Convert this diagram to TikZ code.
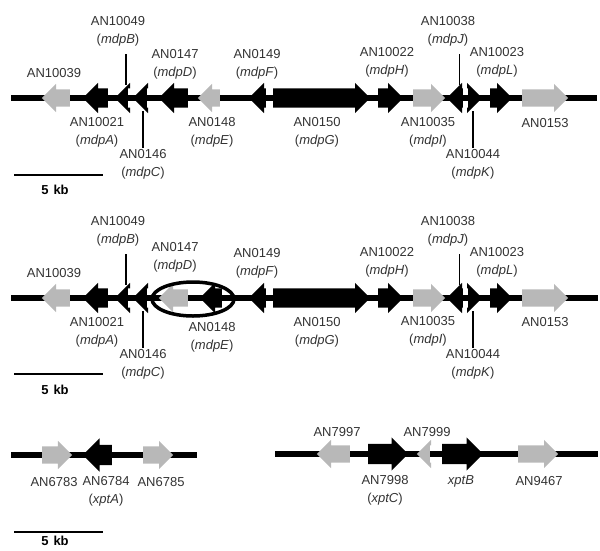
\documentclass[tikz,border=0pt]{standalone}
\usepackage{fontspec}
\setmainfont{Liberation Sans}
\usepackage{tikz}
\usetikzlibrary{shapes.arrows, shapes.geometric, calc}
\usepackage{xcolor}
\definecolor{genegray}{gray}{0.72}
\definecolor{labelgray}{gray}{0.2}
\newcommand{\genefont}{\fontsize{13}{18}\selectfont}

\begin{document}
\begin{tikzpicture}[
		x=1pt, y=-1pt,
		every node/.style={font=\genefont, text=labelgray},
		chrom/.style={line width=6pt, black},
		gene/.style={single arrow, single arrow tip angle=90, inner xsep=0pt, anchor=tail},
		graygene/.style={gene, fill=genegray, inner ysep=8.5pt, single arrow head extend=5.5pt},
		blackgene/.style={gene, fill=black, inner ysep=9.5pt, single arrow head extend=5.5pt},
		biggene/.style={gene, fill=black, inner ysep=10pt, single arrow head extend=6.5pt},
		leftward/.style={shape border rotate=180},
		locus/.style={align=center, inner sep=1pt},
		leader/.style={line width=1.5pt, black},
		scalebar/.style={line width=2.5pt, black},
		kb/.style={font=\fontsize{13}{15}\selectfont\bfseries, text=black}
	]
	\useasboundingbox (0,0) rectangle (600,550);

	% ---- Cluster 1 ----
	\draw[chrom] (11,98) -- (597,98);
	\node[graygene, leftward, minimum height=28pt] (a10039) at (70,98) {};
	\node[blackgene, leftward, minimum height=25pt] (a10021) at (108,98) {};
	\node[blackgene, leftward, minimum height=13pt] (a10049) at (128,98) {};
	\node[blackgene, leftward, minimum height=14pt] (a0146) at (147,98) {};
	\node[blackgene, leftward, minimum height=29pt] (a0147) at (188,98) {};
	\node[graygene, leftward, minimum height=22pt] (a0148) at (220,98) {};
	\node[blackgene, leftward, minimum height=17pt] (a0149) at (266,98) {};
	\node[blackgene, minimum height=97pt] (a0150) at (273,98) {};
	\node[blackgene, minimum height=25pt] (a10022) at (378,98) {};
	\node[graygene, minimum height=32pt] (a10035) at (413,98) {};
	\node[blackgene, leftward, minimum height=16pt] (a10038) at (463,98) {};
	\node[blackgene, minimum height=14pt] (a10044) at (468,98) {};
	\node[blackgene, minimum height=22pt] (a10023) at (490,98) {};
	\node[graygene, minimum height=46pt] (a0153) at (522,98) {};

	% labels above
	\node[locus] (la10039) at (54,73) {AN10039};
	\node[locus] (la10049) at (118,31) {AN10049\\(\textit{mdpB})};
	\node[locus] (la0147) at (175,64) {AN0147\\(\textit{mdpD})};
	\node[locus] (la0149) at (257,64) {AN0149\\(\textit{mdpF})};
	\node[locus] (la10022) at (387,62) {AN10022\\(\textit{mdpH})};
	\node[locus] (la10038) at (448,31) {AN10038\\(\textit{mdpJ})};
	\node[locus] (la10023) at (497,62) {AN10023\\(\textit{mdpL})};
	% labels below
	\node[locus] (la10021) at (97,132) {AN10021\\(\textit{mdpA})};
	\node[locus] (la0146) at (143,164) {AN0146\\(\textit{mdpC})};
	\node[locus] (la0148) at (212,132) {AN0148\\(\textit{mdpE})};
	\node[locus] (la0150) at (317,132) {AN0150\\(\textit{mdpG})};
	\node[locus] (la10035) at (428,132) {AN10035\\(\textit{mdpI})};
	\node[locus] (la10044) at (473,164) {AN10044\\(\textit{mdpK})};
	\node[locus] (la0153) at (545,123) {AN0153};

	\draw[leader] ([yshift=-7pt]la10049.south -| a10049.center) -- ([yshift=13pt]a10049.center);
	\draw[leader] ([yshift=-13pt]a0146.center -| la0146.north) -- (la0146.north);
	\draw[leader] ([yshift=-7pt]la10038.south -| a10038.center) -- ([yshift=13pt]a10038.center);
	\draw[leader] ([yshift=-13pt]a10044.center -| la10044.north) -- (la10044.north);

	\coordinate (sa1) at (14,175);
	\coordinate (sa2) at (103,175);
	\draw[scalebar] (sa1) -- (sa2);
	\node[kb] (kba) at (55,190) {5\hspace{5pt}kb};

	% ---- Cluster 2 (deletion) ----
	\draw[chrom] (11,298) -- (598,298);
	\node[graygene, leftward, minimum height=28pt] (b10039) at (70,298) {};
	\node[blackgene, leftward, minimum height=25pt] (b10021) at (108,298) {};
	\node[blackgene, leftward, minimum height=13pt] (b10049) at (128,298) {};
	\node[blackgene, leftward, minimum height=14pt] (b0146) at (147,298) {};
	\node[graygene, leftward, minimum height=29pt] (b0147) at (188,298) {};
	\node[blackgene, leftward, minimum height=22pt] (b0148) at (222,298) {};
	\node[blackgene, leftward, minimum height=17pt] (b0149) at (266,298) {};
	\node[blackgene, minimum height=97pt] (b0150) at (273,298) {};
	\node[blackgene, minimum height=25pt] (b10022) at (378,298) {};
	\node[graygene, minimum height=32pt] (b10035) at (413,298) {};
	\node[blackgene, leftward, minimum height=16pt] (b10038) at (463,298) {};
	\node[blackgene, minimum height=14pt] (b10044) at (468,298) {};
	\node[blackgene, minimum height=22pt] (b10023) at (490,298) {};
	\node[graygene, minimum height=46pt] (b0153) at (522,298) {};

	\node[draw, ellipse, line width=3.5pt, minimum width=82pt, minimum height=34pt, inner sep=0pt] (gap) at (193,299) {};

	\node[locus] (lb10039) at (54,273) {AN10039};
	\node[locus] (lb10049) at (118,231) {AN10049\\(\textit{mdpB})};
	\node[locus] (lb0147) at (175,257) {AN0147\\(\textit{mdpD})};
	\node[locus] (lb0149) at (257,263) {AN0149\\(\textit{mdpF})};
	\node[locus] (lb10022) at (387,262) {AN10022\\(\textit{mdpH})};
	\node[locus] (lb10038) at (448,231) {AN10038\\(\textit{mdpJ})};
	\node[locus] (lb10023) at (497,262) {AN10023\\(\textit{mdpL})};
	\node[locus] (lb10021) at (97,332) {AN10021\\(\textit{mdpA})};
	\node[locus] (lb0146) at (143,364) {AN0146\\(\textit{mdpC})};
	\node[locus] (lb0148) at (212,337) {AN0148\\(\textit{mdpE})};
	\node[locus] (lb0150) at (317,332) {AN0150\\(\textit{mdpG})};
	\node[locus] (lb10035) at (428,331) {AN10035\\(\textit{mdpI})};
	\node[locus] (lb10044) at (473,364) {AN10044\\(\textit{mdpK})};
	\node[locus] (lb0153) at (545,322) {AN0153};

	\draw[leader] ([yshift=-7pt]lb10049.south -| b10049.center) -- ([yshift=13pt]b10049.center);
	\draw[leader] ([yshift=-13pt]b0146.center -| lb0146.north) -- (lb0146.north);
	\draw[leader] ([yshift=-7pt]lb10038.south -| b10038.center) -- ([yshift=13pt]b10038.center);
	\draw[leader] ([yshift=-13pt]b10044.center -| lb10044.north) -- (lb10044.north);

	\coordinate (sb1) at (14,374);
	\coordinate (sb2) at (103,374);
	\draw[scalebar] (sb1) -- (sb2);
	\node[kb] (kbb) at (55,390) {5\hspace{5pt}kb};

	% ---- xpt loci ----
	\draw[chrom] (11,455) -- (197,455);
	\node[graygene, minimum height=30pt] (c6783) at (42,455) {};
	\node[biggene, leftward, minimum height=29pt] (c6784) at (112,455) {};
	\node[graygene, minimum height=30pt] (c6785) at (143,455) {};

	\draw[chrom] (275,454) -- (598,454);
	\node[graygene, leftward, minimum height=33pt] (c7997) at (350,454) {};
	\node[biggene, minimum height=40pt] (c7998) at (368,454) {};
	\node[graygene, leftward, minimum height=13pt] (c7999) at (430,454) {};
	\node[biggene, minimum height=41pt] (cxptB) at (442,454) {};
	\node[graygene, minimum height=40pt] (c9467) at (518,454) {};

	\node[locus] (lc6783) at (54,482) {AN6783};
	\node[locus] (lc6784) at (106,491) {AN6784\\(\textit{xptA})};
	\node[locus] (lc6785) at (161,482) {AN6785};
	\node[locus] (lc7997) at (337,432) {AN7997};
	\node[locus] (lc7999) at (427,432) {AN7999};
	\node[locus] (lc7998) at (385,490) {AN7998\\(\textit{xptC})};
	\node[locus] (lcxptB) at (461,481) {\textit{xptB}};
	\node[locus] (lc9467) at (539,481) {AN9467};

	\coordinate (sc1) at (14,532);
	\coordinate (sc2) at (103,532);
	\draw[scalebar] (sc1) -- (sc2);
	\node[kb] (kbc) at (55,541) {5\hspace{5pt}kb};
\end{tikzpicture}
\end{document}
